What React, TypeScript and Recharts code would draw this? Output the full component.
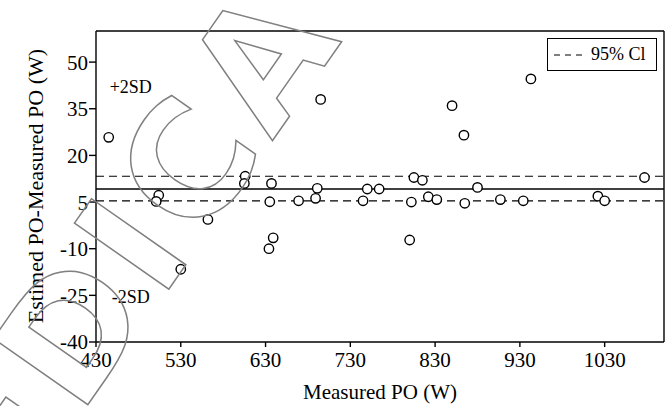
import { ScatterChart, Scatter, XAxis, YAxis, ReferenceLine, ReferenceDot, Legend, Label } from 'recharts';

// measured power output (x) and estimated - measured difference (y)
const measuredPO = [445, 504, 501, 562, 530, 606, 605, 637, 635, 639, 634, 669, 691, 689, 695, 745, 750, 764, 805, 802, 800, 815, 822, 832, 850, 864, 865, 880, 907, 934, 943, 1022, 1030, 1077];
const diffPO = [25.8, 7.2, 5.2, -0.6, -16.6, 13.3, 11.0, 11.0, 5.1, -6.5, -10, 5.4, 9.4, 6.2, 38, 5.4, 9.2, 9.2, 12.9, 5.0, -7.2, 12.0, 6.7, 5.8, 36, 26.5, 4.6, 9.7, 5.8, 5.4, 44.6, 6.9, 5.4, 12.9];

const meanDiff = 9.2;
const ciUpper = 13.3;
const ciLower = 5.4;

const xTicks = [430, 530, 630, 730, 830, 930, 1030];
const yTicks = [-40, -25, -10, 5, 20, 35, 50];

const points = measuredPO.map((x, i) => ({ x, y: diffPO[i] }));

const serif = '"Liberation Serif", Tinos, "Times New Roman", serif';

const Circle = (props: any) => (
  <circle cx={props.cx} cy={props.cy} r={4.7} fill="#fff" stroke="#000" strokeWidth={1.4} />
);

const CiLegend = () => (
  <div
    style={{
      boxSizing: 'border-box',
      width: 110,
      height: 33,
      border: '1.4px solid #000',
      background: '#fff',
      display: 'flex',
      alignItems: 'center',
      paddingLeft: 6,
      fontFamily: serif,
      fontSize: 18,
      color: '#000',
    }}
  >
    <svg width={30} height={10} style={{ marginRight: 7 }}>
      <line x1={0} y1={5} x2={30} y2={5} stroke="#000" strokeWidth={1.2} strokeDasharray="6 5" />
    </svg>
    <span>95% Cl</span>
  </div>
);

export default function App() {
  return (
    <div style={{ position: 'absolute', left: 0, top: 0, width: 667, height: 406, background: '#fff' }}>
      <ScatterChart width={667} height={406} margin={{ top: 31, right: 3, bottom: 0, left: 0 }}>
        <XAxis
          type="number"
          dataKey="x"
          domain={[430, 1100]}
          ticks={xTicks}
          height={64}
          tickSize={5}
          tickMargin={5}
          stroke="#000"
          strokeWidth={1.4}
          tick={{ fill: '#000', fontSize: 21, fontFamily: serif }}
          allowDataOverflow
        >
          <Label value="Measured PO (W)" position="insideBottom" offset={7} fill="#000" fontSize={21} fontFamily={serif} />
        </XAxis>
        <YAxis
          type="number"
          dataKey="y"
          domain={[-40, 60]}
          ticks={yTicks}
          width={96}
          tickSize={7}
          tickMargin={1}
          stroke="#000"
          strokeWidth={1.4}
          tick={{ fill: '#000', fontSize: 21, fontFamily: serif }}
          allowDataOverflow
        >
          <Label
            content={() => (
              <text transform="translate(43,186) rotate(-90)" textAnchor="middle" fill="#000" fontSize={22} fontFamily={serif}>
                Estimed PO-Measured PO (W)
              </text>
            )}
          />
        </YAxis>
        {/* frame top / right */}
        <ReferenceLine y={60} stroke="#000" strokeWidth={1.4} />
        <ReferenceLine x={1100} stroke="#000" strokeWidth={1.4} />
        <ReferenceLine y={ciUpper} stroke="#000" strokeWidth={1.2} strokeDasharray="8 5" />
        <ReferenceLine y={meanDiff} stroke="#000" strokeWidth={1.6} />
        <ReferenceLine y={ciLower} stroke="#000" strokeWidth={1.2} strokeDasharray="8 5" />
        <ReferenceDot x={471} y={42} r={0} fill="none" stroke="none" label={{ value: '+2SD', position: 'center', fill: '#000', fontSize: 18, fontFamily: serif }} />
        <ReferenceDot x={471} y={-25.5} r={0} fill="none" stroke="none" label={{ value: '-2SD', position: 'center', fill: '#000', fontSize: 18, fontFamily: serif }} />
        <Scatter data={points} shape={Circle} isAnimationActive={false} />
        <Legend
          verticalAlign="middle"
          layout="horizontal"
          content={CiLegend}
          wrapperStyle={{ left: 547, top: 38, width: 110, height: 33 }}
        />
      </ScatterChart>
      {/* faint watermark over the figure */}
      <svg width={667} height={406} style={{ position: 'absolute', left: 0, top: 0, pointerEvents: 'none' }}>
        <text
          x={348}
          y={33}
          transform="rotate(-55 348 33)"
          textAnchor="end"
          fontFamily='"DejaVu Sans", sans-serif'
          fontWeight="bold"
          fontSize={158}
          letterSpacing={10}
          fill="none"
          stroke="#808080"
          strokeWidth={1.5}
        >
          MEDICA
        </text>
      </svg>
    </div>
  );
}
